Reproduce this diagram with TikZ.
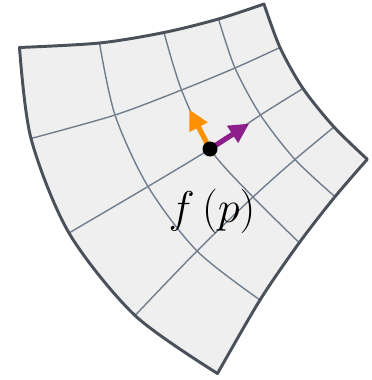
\documentclass[tikz,border=0pt]{standalone}
\usepackage{tikz}
\usetikzlibrary{arrows.meta}

\definecolor{edgegray}{RGB}{74,81,91}
\definecolor{gridgray}{RGB}{112,126,142}
\definecolor{patchfill}{RGB}{239,239,239}
\definecolor{vecorange}{RGB}{255,145,0}
\definecolor{vecpurple}{RGB}{142,30,140}

\newcommand{\patchoutline}{%
  plot[smooth] coordinates {(19.5,47.5) (99.5,43) (164,32.5) (218.5,19) (264,4)}
  -- plot[smooth] coordinates {(264,4) (280,47.5) (303,88.5) (334,127) (367.3,159.3)}
  -- plot[smooth] coordinates {(367.3,159.3) (335,196.7) (299.3,242.7) (260,300) (217.5,373.5)}
  -- plot[smooth] coordinates {(217.5,373.5) (135,315.5) (69,233) (31,138.5) (19.5,47.5)}
  -- cycle}

\begin{document}
\begin{tikzpicture}[x=0.025cm, y=-0.025cm,
  gridline/.style={draw=gridgray, line width=1pt},
  vecarrow/.style={line width=0.13cm, -{Triangle[length=0.5cm, width=0.48cm]}}]
  \useasboundingbox (0,0) rectangle (372,380);
  \fill[patchfill] \patchoutline;
  % grid rows
  \draw[gridline] plot[smooth] coordinates {(31,138.5) (115,115) (181.5,90) (235,68) (280,47.5)};
  \draw[gridline] plot[smooth] coordinates {(69,233) (148,186.5) (210,149) (260.5,115) (303,88.5)};
  \draw[gridline] plot[smooth] coordinates {(135,315.5) (197,251) (253,197) (295,159.5) (334,127)};
  % grid columns
  \draw[gridline] plot[smooth] coordinates {(99.5,43) (115,115) (148,186.5) (197,251) (260,300)};
  \draw[gridline] plot[smooth] coordinates {(164,32.5) (181.5,90) (210,149) (253,197) (299.3,242.7)};
  \draw[gridline] plot[smooth] coordinates {(218.5,19) (235,68) (260.5,115) (295,159.5) (335,196.7)};
  \draw[edgegray, line width=2.1pt, line join=round] \patchoutline;
  % tangent vectors at f(p)
  \coordinate (fp) at (210,149);
  \coordinate (du) at (189.3,109.5);
  \coordinate (dv) at (249.3,123.5);
  \draw[vecarrow, vecorange] (fp) -- (du);
  \draw[vecarrow, vecpurple] (fp) -- (dv);
  \node[circle, fill=black, inner sep=0pt, minimum size=0.375cm] (fpdot) at (fp) {};
  \node[font=\Huge, scale=1.27] (fplabel) at (212,211) {$f\,(p)$};
\end{tikzpicture}
\end{document}
